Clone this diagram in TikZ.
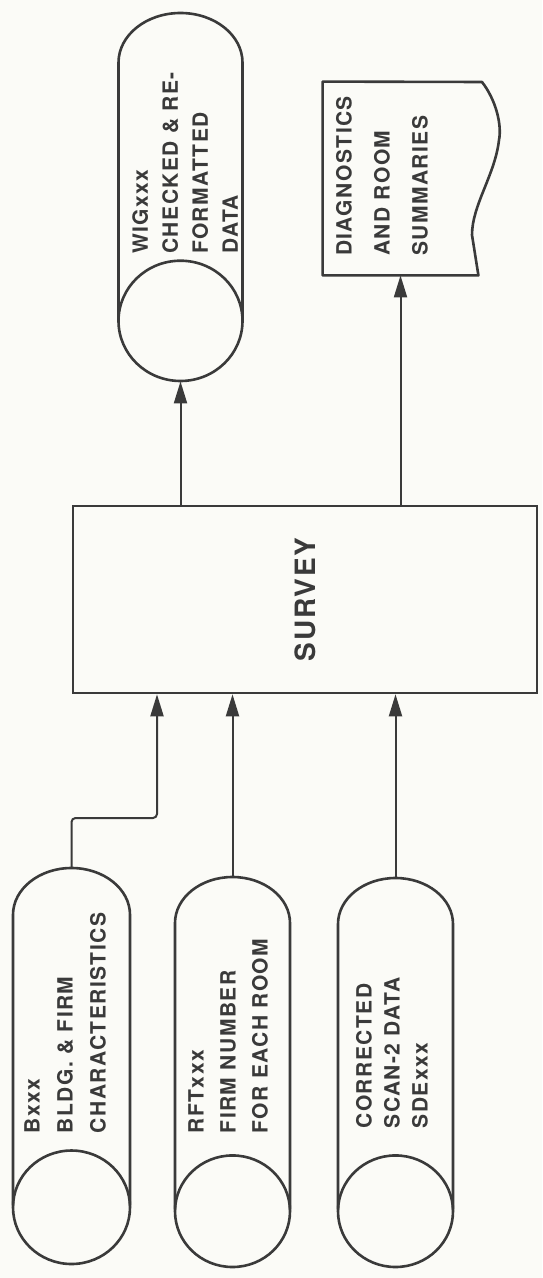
\documentclass[tikz,border=0pt]{standalone}
\usepackage{fontspec}
\setmainfont{TeX Gyre Heros}[LetterSpace=7]
\usetikzlibrary{arrows.meta,positioning,calc,fit}
\definecolor{ink}{RGB}{58,58,58}
\definecolor{paper}{RGB}{251,251,247}
\tikzset{
  drumbox/.style={rectangle, inner sep=0pt},
  lab/.style={rotate=90, align=left, text=ink, inner sep=0pt,
              font=\bfseries\fontsize{10.5}{#1}\selectfont},
  lab/.default=16pt,
  proc/.style={rectangle, draw=ink, line width=1.3pt, minimum width=232pt, minimum height=93.5pt},
  doc/.style={rectangle, minimum width=77.5pt, minimum height=96.5pt},
  outline/.style={draw=ink, line width=1.3pt, line join=round},
  arr/.style={-{Triangle[length=11pt,width=6.5pt]}, line width=1pt, draw=ink},
}
% drum: name, centre x, top y, bottom y, radius
\newcommand{\drum}[5]{%
  \node[drumbox, fit={({#2-#5},#3) ({#2+#5},#4)}] (#1) {};
  \draw[outline] ({#2-#5},{#4-#5}) -- ({#2-#5},{#3+0.8*#5})
    arc[start angle=180, end angle=360, x radius=#5, y radius={0.8*#5}]
    -- ({#2+#5},{#4-#5});
  \draw[outline] (#2,{#4-0.97*#5}) ellipse[x radius=#5, y radius={0.97*#5}];
}
\begin{document}
\begin{tikzpicture}[x=0.5pt,y=-0.5pt]
  \fill[paper] (0,0) rectangle (542,1278);
  \useasboundingbox (0,0) rectangle (542,1278);
  % outputs
  \drum{wig}{180.5}{13}{381}{62}
  \node[lab=15pt] (wigtxt) at (185,163) {WIGxxx\\CHECKED \& RE-\\FORMATTED\\DATA};
  \node[doc] (diag) at (400.5,178.5) {};
  \draw[outline] (diag.south west) -- (diag.north west) -- (482,82)
    .. controls (496,100) and (502,125) .. (499,140)
    .. controls (495,175) and (472,205) .. (472,235) -- (diag.south east) -- cycle;
  \node[lab=19pt] (diagtxt) at (382,176) {DIAGNOSTICS\\AND ROOM\\SUMMARIES};
  % process
  \node[proc] (survey) at (305,599.5)
    {\rotatebox{90}{\color{ink}\bfseries\fontsize{14}{14}\selectfont SURVEY}};
  % inputs
  \drum{bxxx}{71.5}{868}{1264}{58.5}
  \node[lab=16.5pt] (bxxxtxt) at (65,1023) {Bxxx\\BLDG. \& FIRM\\CHARACTERISTICS};
  \drum{rft}{232.5}{877}{1267}{57.5}
  \node[lab] (rfttxt) at (228,1036) {RFTxxx\\FIRM NUMBER\\FOR EACH ROOM};
  \drum{corr}{395.5}{878}{1267}{57.5}
  \node[lab=14pt] (corrtxt) at (392,1053) {CORRECTED\\SCAN-2 DATA\\SDExxx};
  % flows
  \coordinate (bend) at (157,818);
  \draw[arr, rounded corners=2pt] (bxxx) |- (bend) -- (bend |- survey.south);
  \draw[arr] (rft) -- (rft |- survey.south);
  \draw[arr] (corr) -- (corr |- survey.south);
  \draw[arr] (wig |- survey.north) -- (wig);
  \draw[arr] (diag |- survey.north) -- (diag);
\end{tikzpicture}
\end{document}
